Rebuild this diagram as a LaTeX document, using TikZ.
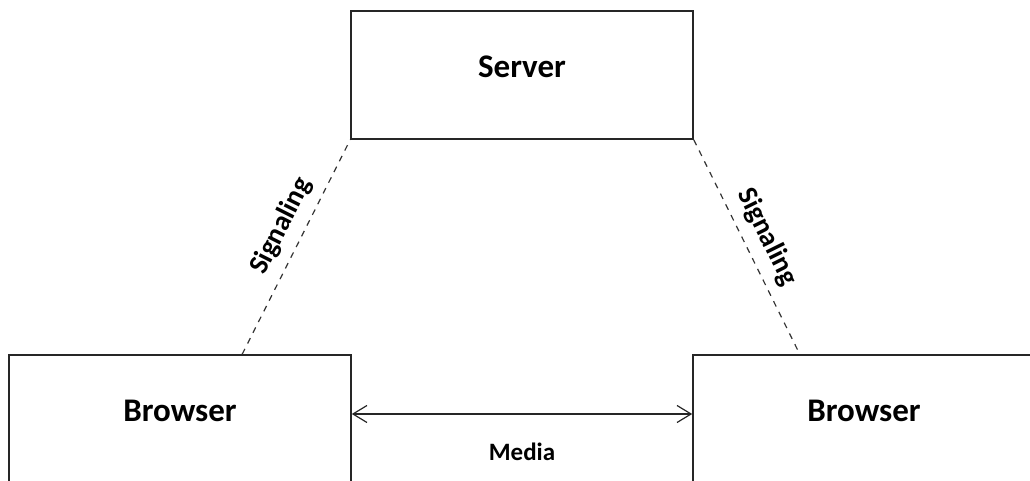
\documentclass[tikz,border=0pt]{standalone}
\usepackage{fontspec}
\setmainfont{Carlito}
\usetikzlibrary{arrows.meta,calc}
\begin{document}
\begin{tikzpicture}[x=0.5pt,y=-0.5pt,
  box/.style={draw=black!85,line width=0.8pt,rectangle,minimum width=171pt,minimum height=64pt,inner sep=0pt,text depth=8pt,font=\bfseries\fontsize{16.5}{18}\selectfont},
  sig/.style={draw=black!80,line width=0.6pt,dash pattern=on 3pt off 3pt},
  siglabel/.style={font=\bfseries\fontsize{14}{16}\selectfont,sloped,above,inner sep=5pt},
  media/.style={draw=black!85,line width=0.6pt,{Straight Barb[length=7pt,width=8.5pt]}-{Straight Barb[length=7pt,width=8.5pt]}}]
\useasboundingbox (0,0) rectangle (1030,481);
\node[box] (server) at (522,75) {Server};
\node[box] (lb) at (180,419) {Browser};
\node[box] (rb) at (864,419) {Browser};
\coordinate (lsig) at ($(lb.north west)!0.681!(lb.north east)$);
\coordinate (rsig) at ($(rb.north west)!0.313!(rb.north east)$);
\draw[sig] (lsig) -- node[siglabel,pos=0.55] {Signaling} (server.south west);
\draw[sig] (server.south east) -- node[siglabel,pos=0.5] {Signaling} (rsig);
\draw[media] (lb.east |- 0,414) -- (rb.west |- 0,414);
\node[font=\bfseries\fontsize{12.5}{14}\selectfont] (medialabel) at (522,452) {Media};
\end{tikzpicture}
\end{document}
